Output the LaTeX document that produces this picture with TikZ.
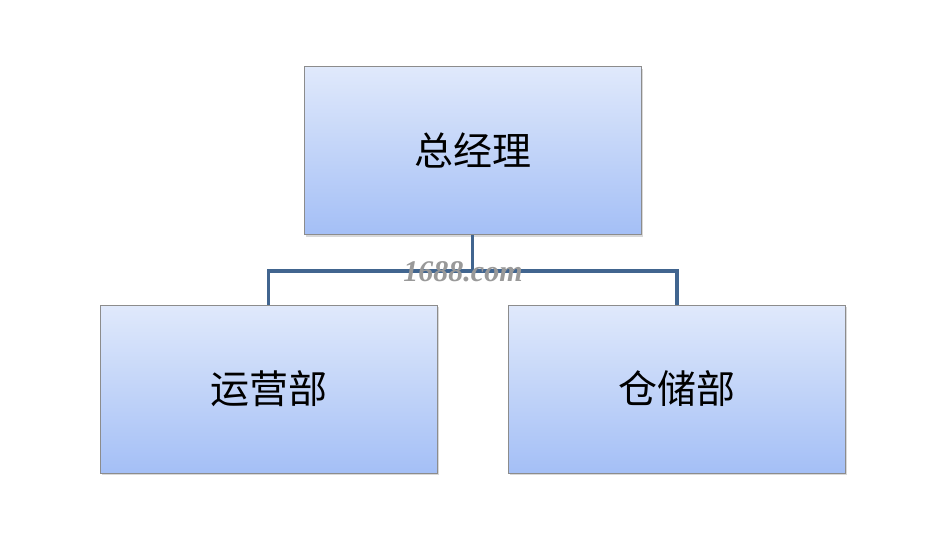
\documentclass[tikz,border=0pt]{standalone}
\usepackage{fontspec}
\newfontfamily\cjk{Noto Sans CJK SC}
\newfontfamily\wmfont{Liberation Serif}
\usepackage{tikz}
\usetikzlibrary{positioning,shadows}

\definecolor{boxtop}{HTML}{E0E9FB}
\definecolor{boxbot}{HTML}{A4BFF6}
\definecolor{boxline}{HTML}{8C8C8C}
\definecolor{connblue}{HTML}{41658F}

\begin{document}
\begin{tikzpicture}[x=1pt,y=1pt,
  box/.style={draw=boxline, line width=0.8pt, top color=boxtop, bottom color=boxbot,
    minimum width=337pt, minimum height=168pt, inner sep=0pt,
    font=\cjk\fontsize{39}{42}\selectfont, text=black,
    drop shadow={shadow xshift=1.5pt, shadow yshift=-2pt, opacity=0.25, fill=black!60}},
  conn/.style={draw=connblue, line width=3.5pt}]
\useasboundingbox[fill=white] (0,0) rectangle (925,-541);
\node[box] (gm)  at (472.5,-150.5) {总经理};
\node[box] (ops) at (268.5,-389) {运营部};
\node[box] (wh)  at (677,-389) {仓储部};
\coordinate (bus) at (472.5,-271);
\draw[conn] (gm.south) -- (bus) -| (ops.north);
\draw[conn] (bus) -| (wh.north);
\node[font=\wmfont\bfseries\itshape\fontsize{30}{32}\selectfont, text=black!40] (mark) at (463,-272) {1688.com};
\end{tikzpicture}
\end{document}
